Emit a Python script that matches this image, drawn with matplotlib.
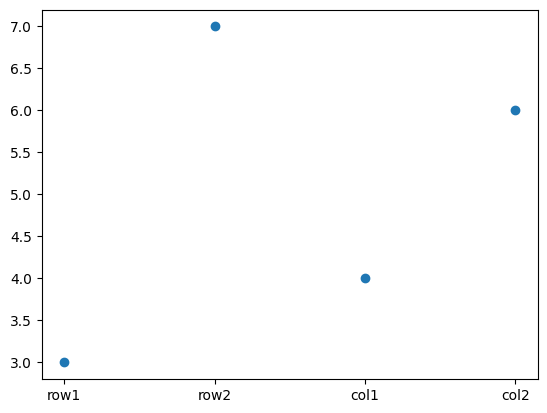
import matplotlib
matplotlib.use("Agg")
import matplotlib.pyplot as plt

categories = ["row1", "row2", "col1", "col2"]
values = [3, 7, 4, 6]

fig, ax = plt.subplots(figsize=(6.4, 4.8), dpi=100)
ax.scatter(categories, values, color="#1f77b4")
fig.savefig("out.png", bbox_inches="tight")
